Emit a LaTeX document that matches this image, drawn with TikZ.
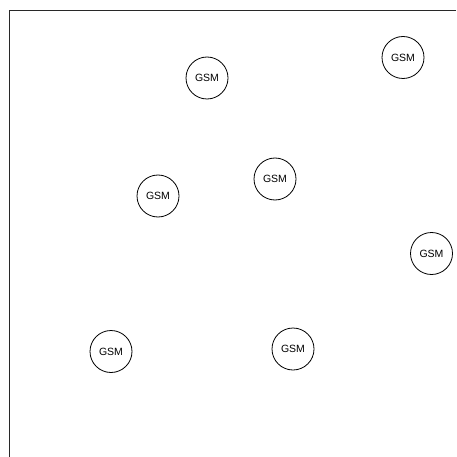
\documentclass[tikz,border=0pt]{standalone}
\usepackage{fontspec}
\setmainfont{Liberation Sans}
\usepackage{xcolor}
\definecolor{framegray}{RGB}{40,40,40}
\usepackage{tikz}
\usetikzlibrary{positioning}

\begin{document}
\begin{tikzpicture}[
        x=1pt, y=-1pt,
        gsm/.style={circle, draw=black, line width=0.8pt, minimum size=42pt, inner sep=0pt, font=\fontsize{10.5}{12}\selectfont},
        area/.style={draw=framegray, line width=0.8pt}
    ]
        \useasboundingbox (0,0) rectangle (456,457);

        % Frame (top and left edges)
        \draw[area] (456,10.5) -- (9.5,10.5) -- (9.5,457);

        % GSM stations
        \node[gsm] (gsm1) at (207,78) {GSM};
        \node[gsm] (gsm2) at (403,57.5) {GSM};
        \node[gsm] (gsm3) at (275,179) {GSM};
        \node[gsm] (gsm4) at (158,196) {GSM};
        \node[gsm] (gsm5) at (431.5,253.5) {GSM};
        \node[gsm] (gsm6) at (111,351.5) {GSM};
        \node[gsm] (gsm7) at (293,349) {GSM};
    \end{tikzpicture}
\end{document}
